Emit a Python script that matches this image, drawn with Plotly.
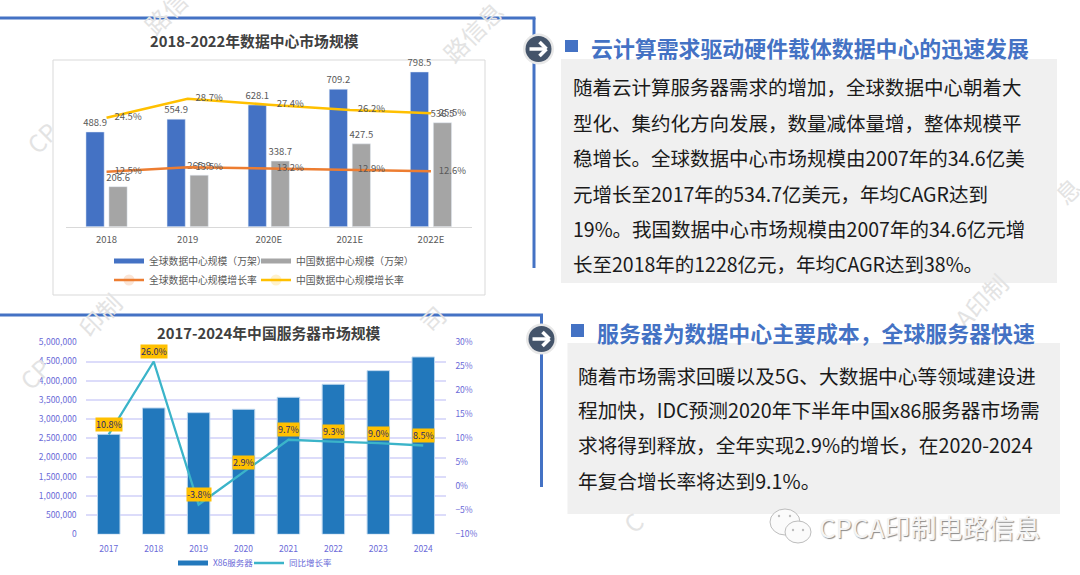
import plotly.graph_objects as go

W, H = 1080, 575
FONT = "Noto Sans CJK SC"

# ---- data: top chart
years_top = ["2018", "2019", "2020E", "2021E", "2022E"]
global_size = [488.9, 554.9, 628.1, 709.2, 798.5]
china_size = [206.6, 265.9, 338.7, 427.5, 536.5]
global_growth = [12.5, 13.5, 13.2, 12.9, 12.6]
china_growth = [24.5, 28.7, 27.4, 26.2, 25.5]

# ---- data: bottom chart
years_bottom = ["2017", "2018", "2019", "2020", "2021", "2022", "2023", "2024"]
x86_servers = [2604000, 3290000, 3168000, 3255000, 3568000, 3906000, 4262000, 4618000]
yoy_growth = [10.8, 26.0, -3.8, 2.9, 9.7, 9.3, 9.0, 8.5]

# ---- text
title_top = "2018-2022年数据中心市场规模"
title_bottom = "2017-2024年中国服务器市场规模"
heading_1 = "云计算需求驱动硬件载体数据中心的迅速发展"
heading_2 = "服务器为数据中心主要成本，全球服务器快速"
body_1 = [
    "随着云计算服务器需求的增加，全球数据中心朝着大",
    "型化、集约化方向发展，数量减体量增，整体规模平",
    "稳增长。全球数据中心市场规模由2007年的34.6亿美",
    "元增长至2017年的534.7亿美元，年均CAGR达到",
    "19%。我国数据中心市场规模由2007年的34.6亿元增",
    "长至2018年的1228亿元，年均CAGR达到38%。",
]
body_2 = [
    "随着市场需求回暖以及5G、大数据中心等领域建设进",
    "程加快，IDC预测2020年下半年中国x86服务器市场需",
    "求将得到释放，全年实现2.9%的增长，在2020-2024",
    "年复合增长率将达到9.1%。",
]
watermark = [("CP", 41, 137), ("路信", 165, 12), ("路信息", 473, 32), ("息", 1067, 190),
             ("A印制", 980, 300), ("C", 632, 522), ("印制", 100, 315), ("司", 432, 318), ("CP", 34, 373)]


def px(x):
    return x / W


def py(y):
    return 1 - y / H


BLUE = "#4472C4"
GRAY = "#A5A5A5"
LABEL = "#595959"
LAV = "#6A6AD8"

fig = go.Figure()

# top chart bars
fig.add_bar(x=years_top, y=global_size, name="全球数据中心规模（万架）", marker_color=BLUE,
            text=[f"{v:.1f}" for v in global_size], textposition="outside", cliponaxis=False, constraintext="none",
            textfont=dict(size=9.5, color=LABEL), showlegend=False, xaxis="x", yaxis="y")
fig.add_bar(x=years_top, y=china_size, name="中国数据中心规模（万架）", marker_color=GRAY,
            text=[f"{v:.1f}" for v in china_size], textposition="outside", cliponaxis=False, constraintext="none",
            textfont=dict(size=9.5, color=LABEL), showlegend=False, xaxis="x", yaxis="y")

# legend keys for the bars (wide flat keys as in the source)
for name, col, leg in [("全球数据中心规模（万架）", BLUE, "legend"), ("中国数据中心规模（万架）", GRAY, "legend5")]:
    fig.add_scatter(x=[None], y=[None], mode="lines", name=name, line=dict(color=col, width=5),
                    xaxis="x", yaxis="y", legend=leg)

# top chart lines
for name, vals, col, leg in [("全球数据中心规模增长率", global_growth, "#ED7D31", "legend2"),
                             ("中国数据中心规模增长率", china_growth, "#FFC000", "legend6")]:
    fig.add_scatter(x=years_top, y=vals, name=name, mode="lines+markers+text",
                    line=dict(color=col, width=2.5),
                    marker=dict(size=11, opacity=0, color=col),
                    text=[f"{v:.1f}%" for v in vals], textposition="middle right",
                    textfont=dict(size=9.5, color=LABEL), cliponaxis=False,
                    xaxis="x", yaxis="y2", legend=leg)

# bottom chart
fig.add_bar(x=years_bottom, y=x86_servers, name="X86服务器", marker=dict(color="#2278BC", line=dict(color="#BCD6EE", width=1)),
            showlegend=False, xaxis="x2", yaxis="y3", width=0.5)
fig.add_scatter(x=[None], y=[None], mode="lines", name="X86服务器", line=dict(color="#2278BC", width=5),
                xaxis="x2", yaxis="y3", legend="legend3")
fig.add_scatter(x=years_bottom, y=yoy_growth, name="同比增长率", mode="lines",
                line=dict(color="#3BB4C9", width=2.3), xaxis="x2", yaxis="y4", legend="legend4")

shapes = []


def rect(x0, y0, x1, y1, fill=None, line=None, lw=1, layer="below"):
    shapes.append(dict(type="rect", xref="paper", yref="paper", x0=px(x0), x1=px(x1), y0=py(y0), y1=py(y1),
                       fillcolor=fill or "rgba(0,0,0,0)", line=dict(color=line or "rgba(0,0,0,0)", width=lw if line else 0),
                       layer=layer))


def seg(x0, y0, x1, y1, col=BLUE, lw=3):
    shapes.append(dict(type="line", xref="paper", yref="paper", x0=px(x0), x1=px(x1), y0=py(y0), y1=py(y1),
                       line=dict(color=col, width=lw), layer="above"))


def circle(cx, cy, rx, ry, fill, line=None, lw=1):
    shapes.append(dict(type="circle", xref="paper", yref="paper", x0=px(cx - rx), x1=px(cx + rx),
                       y0=py(cy + ry), y1=py(cy - ry), fillcolor=fill,
                       line=dict(color=line or "rgba(0,0,0,0)", width=lw if line else 0), layer="above"))


# frames
rect(53, 60, 485, 295, line="#D9D9D9", lw=1)
seg(0, 18, 535.5, 18)
seg(534, 18, 534, 268)
seg(0, 315, 543, 315)
seg(541.5, 315, 541.5, 487)
# white patch behind the lower title (hides the top gridline there)
rect(100, 317, 418, 346, fill="white", layer="above")

# grey text panels
rect(561, 59, 1057, 283, fill="#F0F0F0")
rect(567.5, 343, 1060, 514, fill="#F0F0F0")
# heading squares
rect(565, 40, 578, 52, fill=BLUE)
rect(571, 324, 584, 337, fill=BLUE)


def icon(cx, cy):
    circle(cx, cy, 15.5, 15.5, "#E8E8E8")
    circle(cx, cy, 13, 13, "#44546A")
    seg(cx - 9, cy, cx + 7, cy, "white", 3.5)
    seg(cx + 1, cy - 7, cx + 8, cy, "white", 3.5)
    seg(cx + 1, cy + 7, cx + 8, cy, "white", 3.5)


icon(538.5, 49)
icon(541.5, 339)

# WeChat mark
circle(785, 522, 15, 13, "#FBFBFB", "#BDBDBD", 1)
circle(798, 532, 13, 11, "#FBFBFB", "#BDBDBD", 1)
for ex, ey in [(779, 516), (790, 516), (793, 530), (803, 530)]:
    circle(ex, ey, 1.2, 1.2, "#BDBDBD")

ann = []


def note(text, x, y, size, color, anchor="left", bold=False, angle=0, **kw):
    ann.append(dict(text=f"<b>{text}</b>" if bold else text, xref="paper", yref="paper", x=px(x), y=py(y),
                    xanchor=anchor, yanchor="middle", showarrow=False, textangle=angle,
                    font=dict(family=FONT, size=size, color=color, **kw)))


for t, x, y in watermark:
    note(t, x, y, 24, "#E3E3E3", anchor="center", angle=-45)

note(title_top, 254, 40, 14.8, "#404040", anchor="center", bold=True)
note(title_bottom, 268.5, 332, 14.8, "#404040", anchor="center", bold=True)
note(heading_1, 589, 47, 21.9, BLUE, bold=True)
note(heading_2, 595, 332, 21.9, BLUE, bold=True)
for line, y in zip(body_1, [87, 122, 157.5, 193, 228, 263]):
    note(line, 571, y, 19.5, "#1A1A1A")
for line, y in zip(body_2, [375, 409, 444, 480]):
    note(line, 576, y, 19.7, "#1A1A1A")
note("CPCA印制电路信息", 817, 526, 26, "#F4F4F4", shadow="1px 1px 1px #8A8A8A")

# value flags on the lower chart (x is the category index on the category axis)
for i, v in enumerate(yoy_growth):
    ann.append(dict(text=f"{v:.1f}%", xref="x2", yref="y4", x=i, y=v, yshift=10, showarrow=False,
                    bgcolor="#FFC000", borderpad=0,
                    font=dict(family=FONT, size=9, color="#2A2A6A")))

legend_base = dict(orientation="h", xref="paper", yref="paper", yanchor="middle", xanchor="left",
                   bgcolor="rgba(0,0,0,0)", borderwidth=0, traceorder="normal")
top_legend_font = dict(size=9.8, color=LABEL)

fig.update_layout(
    width=W, height=H, autosize=False, margin=dict(l=0, r=0, t=0, b=0, autoexpand=False),
    paper_bgcolor="white", plot_bgcolor="rgba(0,0,0,0)",
    font=dict(family=FONT, color=LABEL, size=9.5),
    barmode="group", bargap=0.433, bargroupgap=0.208,
    shapes=shapes, annotations=ann,
    xaxis=dict(domain=[px(66), px(471.5)], anchor="y", type="category", showgrid=False, showline=True,
               linecolor="#D9D9D9", linewidth=1, range=[-0.5, 4.5],
               ticks="outside", ticklen=4, tickcolor="rgba(0,0,0,0)", tickfont=dict(size=9.5, color=LABEL), zeroline=False,
               categoryorder="array", categoryarray=years_top),
    yaxis=dict(domain=[py(226.7), py(62)], anchor="x", range=[0, 850], visible=False),
    yaxis2=dict(domain=[py(226.7), py(62)], anchor="x", overlaying="y", side="right", range=[0.25, 36.9], visible=False),
    xaxis2=dict(domain=[px(86.3), px(445.7)], anchor="y3", type="category", showgrid=False, showline=False, zeroline=False,
                range=[-0.5, 7.5],
                ticks="outside", ticklen=6, tickcolor="rgba(0,0,0,0)", tickfont=dict(size=8.5, color=LAV),
                categoryorder="array", categoryarray=years_bottom),
    yaxis3=dict(domain=[py(534.3), py(342.3)], anchor="x2", range=[0, 5000000], dtick=500000, tickformat=",",
                showgrid=True, gridcolor="#DCDCFA", gridwidth=1.5, zeroline=False, showline=False,
                ticks="outside", ticklen=7, tickcolor="rgba(0,0,0,0)", tickfont=dict(size=8.5, color=LAV)),
    yaxis4=dict(domain=[py(534.3), py(342.3)], anchor="x2", overlaying="y3", side="right", range=[-10, 30], dtick=5,
                ticksuffix="%", showgrid=False, zeroline=False, showline=False,
                ticks="outside", ticklen=7, tickcolor="rgba(0,0,0,0)", tickfont=dict(size=8.5, color=LAV)),
    legend=dict(legend_base, x=px(109), y=py(261), font=top_legend_font),
    legend5=dict(legend_base, x=px(256), y=py(261), font=top_legend_font),
    legend2=dict(legend_base, x=px(109), y=py(280), font=top_legend_font),
    legend6=dict(legend_base, x=px(256), y=py(280), font=top_legend_font),
    legend3=dict(legend_base, x=px(173), y=py(563), font=dict(size=8.5, color=LAV)),
    legend4=dict(legend_base, x=px(249), y=py(563), font=dict(size=8.5, color=LAV)),
)

fig.write_html("out.html", config=dict(displayModeBar=False),
               post_script="document.body.style.margin='0';document.body.style.overflow='hidden';")
